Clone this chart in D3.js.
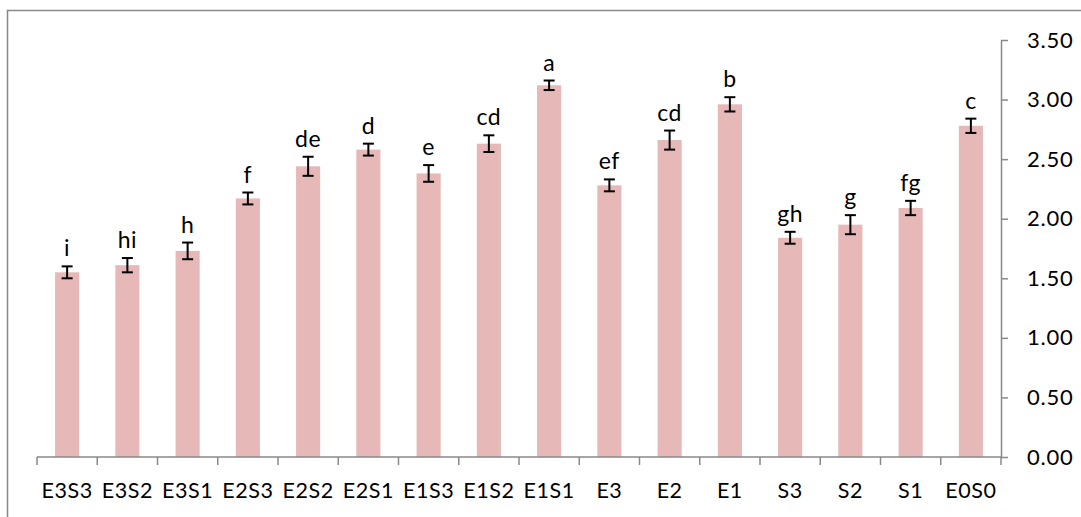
<!DOCTYPE html>
<html>
<head>
<meta charset="utf-8">
<script src="https://cdn.jsdelivr.net/npm/d3@7"></script>
<style>
  html, body { margin: 0; padding: 0; background: #fff; }
  svg { display: block; }
  text { font-family: Lato, "Open Sans", sans-serif; fill: #000; }
</style>
</head>
<body>
<svg id="chart" width="1081" height="517"></svg>
<script>
// Treatments, means, standard errors and significance letters
const categories = ["E3S3","E3S2","E3S1","E2S3","E2S2","E2S1","E1S3","E1S2","E1S1","E3","E2","E1","S3","S2","S1","E0S0"];
const means      = [1.55, 1.61, 1.73, 2.17, 2.44, 2.58, 2.38, 2.63, 3.12, 2.28, 2.66, 2.96, 1.84, 1.95, 2.09, 2.78];
const errors     = [0.05, 0.06, 0.07, 0.05, 0.08, 0.05, 0.07, 0.07, 0.04, 0.05, 0.08, 0.06, 0.05, 0.08, 0.06, 0.06];
const letters    = ["i","hi","h","f","de","d","e","cd","a","ef","cd","b","gh","g","fg","c"];
const yTicks     = [0, 0.5, 1, 1.5, 2, 2.5, 3, 3.5];

const svg = d3.select("#chart");
const axisColor = "#898989";

// Outer frame (open on the right and bottom edges)
svg.append("path")
  .attr("d", "M7.5,530 L7.5,10.5 L1100,10.5")
  .attr("fill", "none")
  .attr("stroke", axisColor)
  .attr("stroke-width", 1.5);

const x = d3.scaleBand().domain(categories).range([37, 1001]).padding(0);
const y = d3.scaleLinear().domain([0, 3.5]).range([457, 40]);
const barW = x.bandwidth() * 0.4;

// Bars
svg.append("g").selectAll("rect")
  .data(categories)
  .join("rect")
  .attr("x", d => x(d) + (x.bandwidth() - barW) / 2)
  .attr("y", (d, i) => y(means[i]))
  .attr("width", barW)
  .attr("height", (d, i) => y(0) - y(means[i]))
  .attr("fill", "#e6b8b7");

// Error bars
const eb = svg.append("g").attr("stroke", "#000").attr("stroke-width", 2);
categories.forEach((c, i) => {
  const cx = x(c) + x.bandwidth() / 2;
  const top = y(means[i] + errors[i]);
  const bot = y(means[i] - errors[i]);
  eb.append("line").attr("x1", cx).attr("x2", cx).attr("y1", top).attr("y2", bot);
  eb.append("line").attr("x1", cx - 5.5).attr("x2", cx + 5.5).attr("y1", top).attr("y2", top);
  eb.append("line").attr("x1", cx - 5.5).attr("x2", cx + 5.5).attr("y1", bot).attr("y2", bot);
});

// Significance letters
svg.append("g").selectAll("text")
  .data(categories)
  .join("text")
  .attr("x", d => x(d) + x.bandwidth() / 2)
  .attr("y", (d, i) => y(means[i] + errors[i]) - 10)
  .attr("text-anchor", "middle")
  .attr("font-size", 23)
  .attr("letter-spacing", 0.5)
  .text((d, i) => letters[i]);

// X axis: baseline with ticks on category boundaries
const xAxis = svg.append("g").attr("stroke", axisColor).attr("stroke-width", 1.5);
xAxis.append("line")
  .attr("x1", x.range()[0]).attr("x2", x.range()[1])
  .attr("y1", y(0)).attr("y2", y(0));
const bounds = categories.map(c => x(c)).concat([x.range()[1]]);
xAxis.selectAll(".tk").data(bounds).join("line")
  .attr("class", "tk")
  .attr("x1", d => d).attr("x2", d => d)
  .attr("y1", y(0)).attr("y2", y(0) + 8);

svg.append("g").selectAll("text")
  .data(categories)
  .join("text")
  .attr("x", d => x(d) + x.bandwidth() / 2)
  .attr("y", 498)
  .attr("text-anchor", "middle")
  .attr("font-size", 21.5)
  .attr("letter-spacing", 0.5)
  .text(d => d);

// Y axis on the right
const yAxis = svg.append("g")
  .attr("transform", `translate(${x.range()[1]},0)`)
  .call(d3.axisRight(y).tickValues(yTicks).tickFormat(d3.format(".2f")).tickSize(7).tickSizeOuter(0).tickPadding(19));
yAxis.select(".domain").attr("stroke", axisColor).attr("stroke-width", 1.5);
yAxis.selectAll(".tick line").attr("stroke", axisColor).attr("stroke-width", 1.5);
yAxis.selectAll(".tick text")
  .attr("font-size", 22)
  .attr("font-family", "Lato, 'Open Sans', sans-serif")
  .attr("fill", "#000")
  .attr("letter-spacing", 0.8);
</script>
</body>
</html>
